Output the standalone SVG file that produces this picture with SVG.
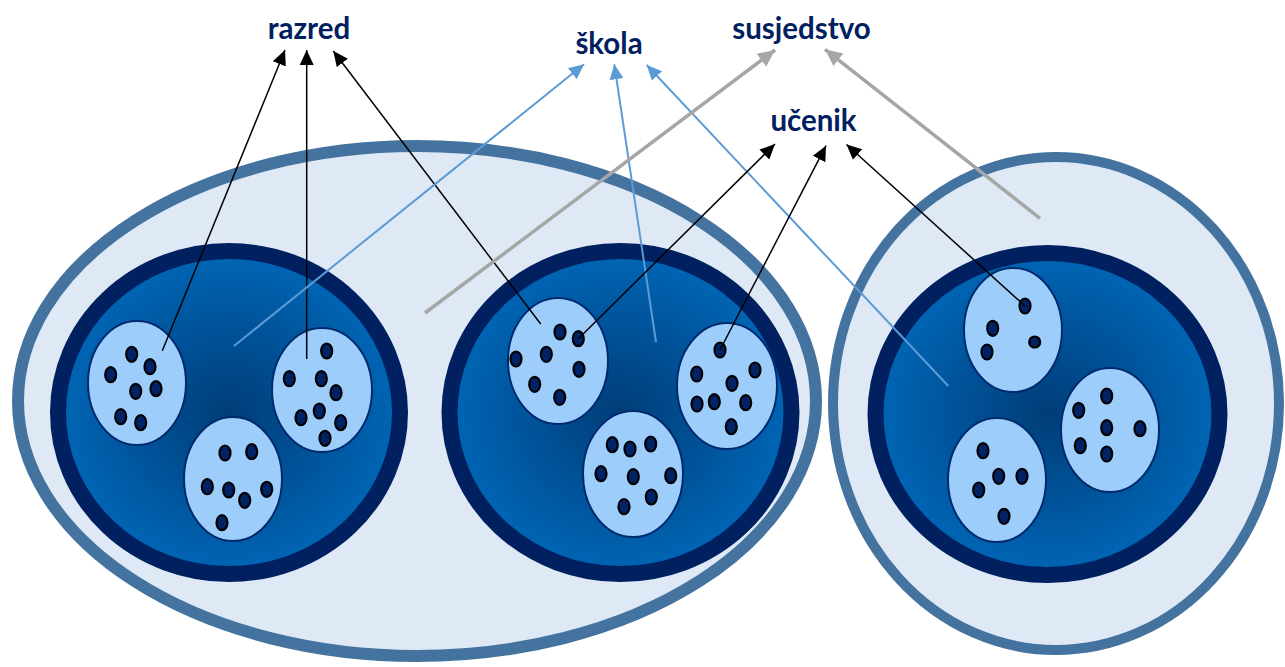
<svg xmlns="http://www.w3.org/2000/svg" width="1285" height="667" viewBox="0 0 1285 667">
<defs>
<radialGradient id="core" cx="50%" cy="50%" r="50%">
<stop offset="0" stop-color="#003d78"/>
<stop offset="1" stop-color="#0066b6"/>
</radialGradient>
<marker id="ahB" markerUnits="userSpaceOnUse" markerWidth="16" markerHeight="16" viewBox="0 0 16 16" refX="15" refY="8" orient="auto"><path d="M0,1 L15,8 L0,15 z" fill="#000"/></marker>
<marker id="ahL" markerUnits="userSpaceOnUse" markerWidth="16" markerHeight="16" viewBox="0 0 16 16" refX="15" refY="8" orient="auto"><path d="M0,1 L15,8 L0,15 z" fill="#5b9bd5"/></marker>
<marker id="ahG" markerUnits="userSpaceOnUse" markerWidth="18" markerHeight="18" viewBox="0 0 18 18" refX="17" refY="9" orient="auto"><path d="M0,1 L17,9 L0,17 z" fill="#a6a6a6"/></marker>
</defs>
<style>
.outer{fill:#dee9f5;stroke:#44739f}
.core{fill:url(#core);stroke:#002060;stroke-width:16}
.grp{fill:#9dcdfa;stroke:#002a6e;stroke-width:2}
.dot{fill:#002366;stroke:#000;stroke-width:2.2}
.lbl{font-family:Lato,"Liberation Sans",sans-serif;font-weight:bold;font-size:29.5px;fill:#002060;text-anchor:middle}
.cb{stroke:#000;stroke-width:1.5;fill:none;marker-end:url(#ahB)}
.cl{stroke:#5b9bd5;stroke-width:2;fill:none;marker-end:url(#ahL)}
.cg{stroke:#a6a6a6;stroke-width:3.5;fill:none;marker-end:url(#ahG)}
</style>
<rect width="1285" height="667" fill="#fff"/>

<g id="susjedstvo-left">
<ellipse class="outer" cx="417" cy="401" rx="399" ry="255" stroke-width="12"/>
</g>
<g id="susjedstvo-right">
<ellipse class="outer" cx="1056" cy="403.5" rx="223" ry="246.5" stroke-width="10"/>
</g>

<g id="skola-1">
<ellipse class="core" cx="229" cy="412.5" rx="171" ry="161.5"/>
<g id="razred-1a">
<ellipse class="grp" cx="137" cy="383" rx="49" ry="62"/>
<ellipse class="dot" cx="131.7" cy="354.3" rx="5.5" ry="7.5"/>
<ellipse class="dot" cx="150" cy="366.7" rx="5.5" ry="7.5"/>
<ellipse class="dot" cx="110.7" cy="374.7" rx="5.5" ry="7.5"/>
<ellipse class="dot" cx="135.7" cy="391.3" rx="5.5" ry="7.5"/>
<ellipse class="dot" cx="156" cy="388.7" rx="5.5" ry="7.5"/>
<ellipse class="dot" cx="120.7" cy="416.7" rx="5.5" ry="7.5"/>
<ellipse class="dot" cx="140.7" cy="422.7" rx="5.5" ry="7.5"/>
</g>
<g id="razred-1b">
<ellipse class="grp" cx="322" cy="390" rx="50" ry="62"/>
<ellipse class="dot" cx="326.7" cy="351" rx="5.5" ry="7.5"/>
<ellipse class="dot" cx="289.3" cy="378.7" rx="5.5" ry="7.5"/>
<ellipse class="dot" cx="321.3" cy="378.7" rx="5.5" ry="7.5"/>
<ellipse class="dot" cx="336" cy="392.7" rx="5.5" ry="7.5"/>
<ellipse class="dot" cx="319.3" cy="411" rx="5.5" ry="7.5"/>
<ellipse class="dot" cx="301" cy="417.7" rx="5.5" ry="7.5"/>
<ellipse class="dot" cx="340.7" cy="422.7" rx="5.5" ry="7.5"/>
<ellipse class="dot" cx="325" cy="438.3" rx="5.5" ry="7.5"/>
</g>
<g id="razred-1c">
<ellipse class="grp" cx="233" cy="479" rx="49" ry="62"/>
<ellipse class="dot" cx="225" cy="453" rx="5.5" ry="7.5"/>
<ellipse class="dot" cx="251.7" cy="451.7" rx="5.5" ry="7.5"/>
<ellipse class="dot" cx="207.3" cy="486.7" rx="5.5" ry="7.5"/>
<ellipse class="dot" cx="228.7" cy="490" rx="5.5" ry="7.5"/>
<ellipse class="dot" cx="244.7" cy="500.3" rx="5.5" ry="7.5"/>
<ellipse class="dot" cx="266.7" cy="489.3" rx="5.5" ry="7.5"/>
<ellipse class="dot" cx="222" cy="522.7" rx="5.5" ry="7.5"/>
</g>
</g>

<g id="skola-2">
<ellipse class="core" cx="620.5" cy="412.5" rx="171" ry="161.5"/>
<g id="razred-2a">
<ellipse class="grp" cx="558" cy="361" rx="50" ry="63"/>
<ellipse class="dot" cx="560" cy="332" rx="5.5" ry="7.5"/>
<ellipse class="dot" cx="578.3" cy="338.7" rx="5.5" ry="7.5"/>
<ellipse class="dot" cx="516" cy="359" rx="5.5" ry="7.5"/>
<ellipse class="dot" cx="546.3" cy="354.3" rx="5.5" ry="7.5"/>
<ellipse class="dot" cx="579" cy="369.3" rx="5.5" ry="7.5"/>
<ellipse class="dot" cx="534.7" cy="384.3" rx="5.5" ry="7.5"/>
<ellipse class="dot" cx="559.7" cy="397.3" rx="5.5" ry="7.5"/>
</g>
<g id="razred-2b">
<ellipse class="grp" cx="727" cy="386" rx="50" ry="63"/>
<ellipse class="dot" cx="720" cy="350" rx="5.5" ry="7.5"/>
<ellipse class="dot" cx="696.7" cy="374" rx="5.5" ry="7.5"/>
<ellipse class="dot" cx="755" cy="370" rx="5.5" ry="7.5"/>
<ellipse class="dot" cx="732" cy="383.3" rx="5.5" ry="7.5"/>
<ellipse class="dot" cx="697" cy="404" rx="5.5" ry="7.5"/>
<ellipse class="dot" cx="714.3" cy="401.7" rx="5.5" ry="7.5"/>
<ellipse class="dot" cx="745.7" cy="402.7" rx="5.5" ry="7.5"/>
<ellipse class="dot" cx="731.3" cy="426.7" rx="5.5" ry="7.5"/>
</g>
<g id="razred-2c">
<ellipse class="grp" cx="633" cy="474" rx="50" ry="63"/>
<ellipse class="dot" cx="612.3" cy="444.7" rx="5.5" ry="7.5"/>
<ellipse class="dot" cx="630" cy="449" rx="5.5" ry="7.5"/>
<ellipse class="dot" cx="650.7" cy="444" rx="5.5" ry="7.5"/>
<ellipse class="dot" cx="601" cy="473.7" rx="5.5" ry="7.5"/>
<ellipse class="dot" cx="633.3" cy="476.7" rx="5.5" ry="7.5"/>
<ellipse class="dot" cx="670.7" cy="475.7" rx="5.5" ry="7.5"/>
<ellipse class="dot" cx="651.3" cy="497" rx="5.5" ry="7.5"/>
<ellipse class="dot" cx="624" cy="506.7" rx="5.5" ry="7.5"/>
</g>
</g>

<g id="skola-3">
<ellipse class="core" cx="1047.5" cy="414" rx="172" ry="161"/>
<g id="razred-3a">
<ellipse class="grp" cx="1013" cy="330" rx="49" ry="62"/>
<ellipse class="dot" cx="1025" cy="306" rx="5.5" ry="7.5"/>
<ellipse class="dot" cx="992.7" cy="328.3" rx="5.5" ry="7.5"/>
<ellipse class="dot" cx="1034.7" cy="342" rx="5.5" ry="5.5"/>
<ellipse class="dot" cx="987" cy="352" rx="5.5" ry="7.5"/>
</g>
<g id="razred-3b">
<ellipse class="grp" cx="1110" cy="430" rx="49" ry="62"/>
<ellipse class="dot" cx="1106.7" cy="396" rx="5.5" ry="7.5"/>
<ellipse class="dot" cx="1078.7" cy="410.3" rx="5.5" ry="7.5"/>
<ellipse class="dot" cx="1106.7" cy="427.7" rx="5.5" ry="7.5"/>
<ellipse class="dot" cx="1140" cy="428.7" rx="5.5" ry="7.5"/>
<ellipse class="dot" cx="1080.3" cy="445.7" rx="5.5" ry="7.5"/>
<ellipse class="dot" cx="1106.7" cy="454" rx="5.5" ry="7.5"/>
</g>
<g id="razred-3c">
<ellipse class="grp" cx="997" cy="480" rx="49" ry="62"/>
<ellipse class="dot" cx="983" cy="450.7" rx="5.5" ry="7.5"/>
<ellipse class="dot" cx="998.7" cy="476.3" rx="5.5" ry="7.5"/>
<ellipse class="dot" cx="1022" cy="476.3" rx="5.5" ry="7.5"/>
<ellipse class="dot" cx="978.7" cy="490" rx="5.5" ry="7.5"/>
<ellipse class="dot" cx="1004" cy="516.3" rx="5.5" ry="7.5"/>
</g>
</g>

<g id="label-razred"><text class="lbl" x="309" y="39">razred</text></g>
<g id="label-skola"><text class="lbl" x="609" y="54">škola</text></g>
<g id="label-susjedstvo"><text class="lbl" x="801.5" y="39">susjedstvo</text></g>
<g id="label-ucenik"><text class="lbl" x="813.5" y="131">učenik</text></g>

<g id="connectors">
<line class="cb" x1="162.3" y1="350.7" x2="285" y2="50"/>
<line class="cb" x1="306.7" y1="359" x2="306.7" y2="50"/>
<line class="cb" x1="540.7" y1="324" x2="333.3" y2="51"/>
<line class="cl" x1="234" y1="346" x2="584" y2="64.3"/>
<line class="cl" x1="656" y1="342" x2="614.3" y2="64.3"/>
<line class="cl" x1="948.3" y1="386" x2="646.7" y2="65"/>
<line class="cg" x1="425" y1="313" x2="775" y2="50"/>
<line class="cg" x1="1040" y1="218.3" x2="825" y2="49.3"/>
<line class="cb" x1="578.3" y1="338.7" x2="775" y2="144"/>
<line class="cb" x1="720" y1="350" x2="826" y2="145.7"/>
<line class="cb" x1="1025" y1="306" x2="846.5" y2="144.5"/>
</g>
</svg>
